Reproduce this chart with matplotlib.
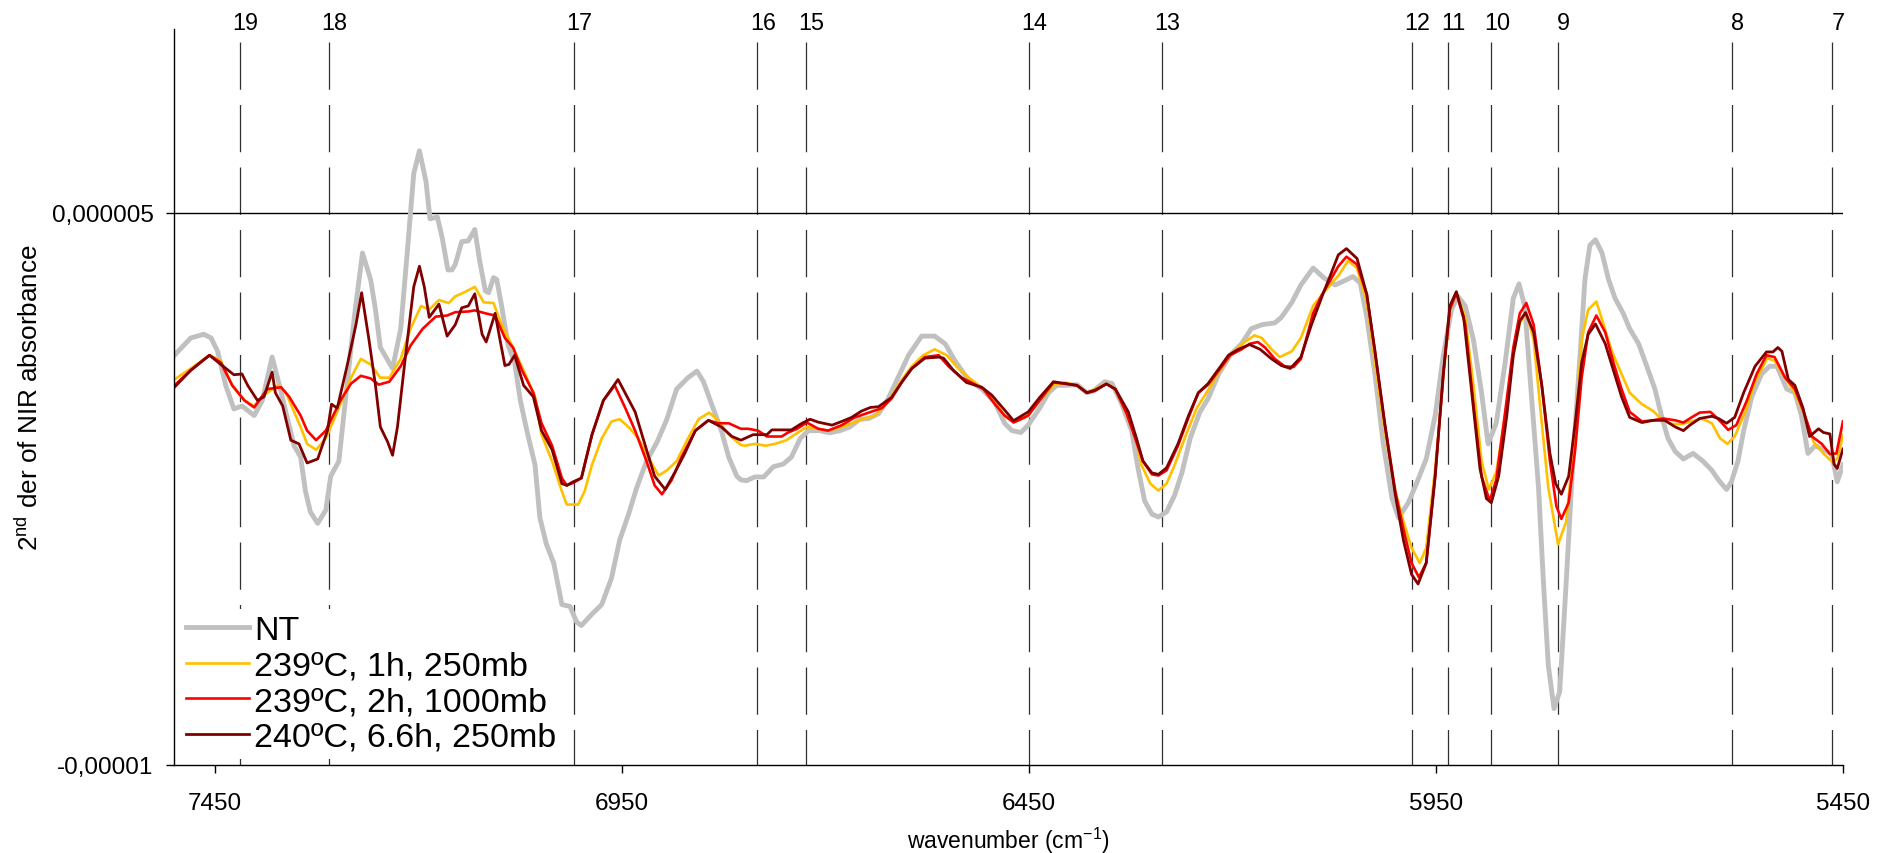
import matplotlib
matplotlib.use('Agg')
import matplotlib.pyplot as plt
import numpy as np

plt.rcParams['font.family'] = ['Liberation Sans', 'DejaVu Sans']
plt.rcParams['mathtext.fontset'] = 'custom'
plt.rcParams['mathtext.rm'] = 'Liberation Sans'
plt.rcParams['mathtext.it'] = 'Liberation Sans:italic'
plt.rcParams['lines.scale_dashes'] = False

# numbered bands (dashed markers)
band_labels = ['19', '18', '17', '16', '15', '14', '13', '12', '11', '10', '9', '8', '7']
band_wn = [7420, 7310, 7009, 6784, 6724, 6450, 6287, 5980, 5935, 5882, 5800, 5586, 5463]

x_ticks = [7450, 6950, 6450, 5950, 5450]
y_ticks = [-1e-5, 5e-6]
y_ticklabels = ['-0,00001', '0,000005']

labels = ['NT', '239ºC, 1h, 250mb', '239ºC, 2h, 1000mb', '240ºC, 6.6h, 250mb']

# NT (untreated)
nt_wn = [7500, 7480, 7464, 7455, 7447, 7437, 7427, 7417, 7402, 7392, 7380, 7371, 7361, 7353, 7345,
         7339, 7333, 7324, 7314, 7308, 7298, 7290, 7279, 7269, 7259, 7253, 7247, 7232, 7222, 7214,
         7206, 7199, 7191, 7186, 7177, 7171, 7164, 7159,
         7155, 7147, 7139, 7131, 7125, 7118, 7114, 7108, 7104, 7098, 7090, 7082, 7075, 7067, 7057,
         7051, 7043, 7034, 7024, 7014, 7006, 7000, 6987, 6975, 6963, 6953, 6942, 6932, 6920, 6907,
         6895, 6883, 6869, 6858, 6850, 6840, 6828, 6819, 6809, 6804,
         6797, 6787, 6776, 6764, 6752, 6742, 6731, 6721, 6707, 6695, 6682, 6670, 6658, 6647, 6635,
         6623, 6611, 6598, 6582, 6566, 6553, 6541, 6525, 6508, 6492, 6480, 6471, 6460,
         6451, 6437, 6426, 6416, 6406, 6391, 6379, 6371, 6357, 6348, 6336, 6324, 6316, 6308, 6299,
         6291, 6281, 6271, 6262, 6252, 6240, 6230, 6217, 6203, 6189, 6177, 6164, 6148, 6140, 6127, 6116,
         6101, 6088, 6074, 6064, 6052, 6043, 6035, 6025, 6015, 6004, 5996, 5984, 5974, 5962, 5951,
         5941, 5931, 5923, 5914, 5904, 5894, 5886, 5876, 5865, 5855, 5848, 5841, 5833, 5824, 5818,
         5812, 5805, 5798, 5790, 5781,
         5773, 5767, 5761, 5754, 5746, 5738, 5730, 5720, 5712, 5701, 5691, 5681, 5673, 5665, 5656,
         5646, 5634, 5622, 5611, 5603, 5593, 5587, 5579, 5572, 5562, 5550, 5540, 5531, 5519, 5509,
         5501, 5493, 5484, 5474, 5464, 5457, 5450]
nt_val = np.array([
    1.13, 1.60, 1.70, 1.60, 1.24, 0.31, -0.33, -0.25, -0.51, -0.10, 1.08, 0.31, -0.61, -1.33, -1.64,
    -2.57, -3.13, -3.44, -3.08, -2.16, -1.75, -0.10, 2.16, 3.91, 3.19, 2.37, 1.34, 0.77, 1.85, 3.91,
    6.07, 6.69, 5.86, 4.84, 4.89, 4.32, 3.45, 3.45,
    3.60, 4.22, 4.24, 4.55, 3.70, 2.88, 2.83, 3.24, 3.19, 2.47, 1.39, 0.93, -0.10, -0.92, -1.85,
    -3.29, -4.01, -4.52, -5.65, -5.70, -6.12, -6.22, -5.91, -5.65, -4.93, -3.90, -3.19, -2.47, -1.75, -1.23,
    -0.61, 0.21, 0.52, 0.70, 0.41, -0.20, -0.92, -1.64, -2.16, -2.26,
    -2.28, -2.18, -2.18, -1.90, -1.83, -1.64, -1.13, -0.92, -0.92, -0.98, -0.92, -0.82, -0.61, -0.59, -0.46,
    -0.05, 0.52, 1.13, 1.65, 1.65, 1.44, 0.98, 0.47, 0.21, -0.15, -0.72, -0.92, -0.97,
    -0.77, -0.31, 0.11, 0.31, 0.31, 0.33, 0.11, 0.16, 0.41, 0.36, -0.20, -0.92, -1.95, -2.83, -3.19,
    -3.27, -3.13, -2.67, -2.05, -1.13, -0.41, -0.05, 0.62, 1.13, 1.44, 1.85, 1.96, 2.01, 2.16, 2.57, 3.04,
    3.50, 3.24, 3.04, 3.14, 3.27, 3.09, 2.16, 0.62, -1.23, -2.77, -3.29, -2.88, -2.36, -1.69, -0.51,
    1.13, 2.37, 2.73, 2.47, 1.55, 0.11, -1.28, -0.72, 0.93, 2.68, 3.07, 2.47, 0.11, -2.47, -5.04,
    -7.30, -8.48, -8.02, -5.04, -1.44,
    1.13, 3.19, 4.12, 4.27, 3.91, 3.19, 2.68, 2.27, 1.85, 1.44, 0.83, 0.21, -0.51, -1.13, -1.49,
    -1.69, -1.54, -1.75, -2.00, -2.26, -2.52, -2.31, -1.75, -0.92, 0.00, 0.62, 0.83, 0.83, 0.21, 0.11,
    -0.51, -1.54, -1.33, -1.44, -1.54, -2.31, -1.85]) * 1e-6

# 239 C, 1h, 250mb
s1_wn = [7500, 7480, 7457, 7443, 7429, 7414, 7402, 7390, 7373, 7363, 7345, 7337, 7326, 7314, 7300,
         7283, 7271, 7259, 7247, 7236, 7222, 7210, 7197, 7187, 7175, 7163,
         7155, 7143, 7131, 7120, 7108, 7098, 7084, 7069, 7057, 7049, 7036, 7024, 7018, 7004, 6996,
         6987, 6975, 6963, 6953, 6942, 6930, 6918, 6905, 6895, 6883, 6869, 6856, 6843, 6832, 6819, 6804,
         6799, 6787, 6774, 6762, 6748, 6738, 6723, 6709, 6697, 6680, 6668, 6652, 6639, 6623, 6606,
         6594, 6580, 6566, 6551, 6537, 6521, 6506, 6492, 6480, 6469, 6460,
         6451, 6437, 6420, 6406, 6391, 6379, 6369, 6355, 6344, 6330, 6320, 6312, 6301, 6291, 6281,
         6271, 6258, 6244, 6232, 6217, 6201, 6185, 6173, 6164, 6152, 6142, 6127, 6116,
         6101, 6090, 6082, 6070, 6058, 6047, 6035, 6025, 6013, 6000, 5990, 5980, 5970, 5962, 5951,
         5941, 5933, 5925, 5914, 5904, 5894, 5885, 5876, 5865, 5855, 5847, 5839, 5830, 5820, 5812,
         5800, 5790, 5779,
         5771, 5763, 5753, 5744, 5734, 5722, 5712, 5697, 5683, 5673, 5660, 5648, 5636, 5624, 5611,
         5601, 5592, 5583, 5570, 5558, 5543, 5534, 5521, 5509, 5497, 5486, 5474, 5462, 5456, 5450]
s1_val = np.array([
    0.47, 0.77, 1.13, 0.98, 0.31, -0.10, -0.25, 0.05, 0.31, 0.11, -0.82, -1.28, -1.44, -1.13, -0.41,
    0.52, 1.03, 0.88, 0.52, 0.52, 1.03, 1.85, 2.47, 2.37, 2.63, 2.55,
    2.73, 2.85, 2.99, 2.57, 2.55, 1.96, 1.34, 0.62, 0.00, -1.03, -1.75, -2.57, -2.93, -2.93, -2.57,
    -1.85, -1.13, -0.67, -0.61, -0.82, -1.13, -1.64, -2.14, -2.00, -1.75, -1.13, -0.61, -0.43, -0.64, -1.03, -1.31,
    -1.33, -1.28, -1.33, -1.28, -1.18, -1.03, -0.82, -0.87, -0.92, -0.82, -0.72, -0.59, -0.51, -0.10, 0.47,
    0.83, 1.13, 1.29, 1.13, 0.77, 0.47, 0.21, -0.15, -0.51, -0.67, -0.61,
    -0.51, -0.10, 0.31, 0.39, 0.31, 0.11, 0.21, 0.36, 0.21, -0.46, -1.03, -1.85, -2.36, -2.55, -2.36,
    -1.85, -1.08, -0.31, 0.11, 0.67, 1.19, 1.49, 1.67, 1.60, 1.29, 1.08, 1.24, 1.60,
    2.47, 2.78, 2.99, 3.29, 3.70, 3.50, 2.57, 0.93, -0.92, -2.57, -3.39, -4.11, -4.52, -4.11, -1.95,
    0.52, 2.37, 2.83, 2.16, 0.31, -1.75, -2.52, -2.05, -0.51, 1.13, 2.01, 2.29, 1.55, -0.72, -2.47,
    -4.01, -3.39, -0.92,
    1.55, 2.37, 2.59, 1.96, 1.24, 0.62, 0.11, -0.20, -0.39, -0.61, -0.74, -0.74, -0.67, -0.59, -0.72,
    -1.13, -1.28, -1.08, -0.41, 0.41, 1.05, 0.98, 0.52, 0.11, -0.51, -1.23, -1.54, -1.80, -1.64, -1.03]) * 1e-6

# 239 C, 2h, 1000mb
s2_wn = [7500, 7480, 7457, 7443, 7429, 7414, 7402, 7386, 7369, 7359, 7345, 7337, 7326, 7314, 7296,
         7283, 7271, 7259, 7249, 7236, 7222, 7210, 7195, 7179, 7165,
         7155, 7139, 7131, 7118, 7106, 7094, 7084, 7073, 7059, 7049, 7036, 7024, 7018, 7010, 7000,
         6987, 6973, 6959, 6946, 6934, 6920, 6910, 6901, 6889, 6877, 6860, 6844, 6832, 6819, 6804,
         6795, 6783, 6772, 6754, 6746, 6735, 6723, 6709, 6697, 6680, 6664, 6647, 6631, 6619, 6606,
         6594, 6578, 6561, 6549, 6533, 6521, 6506, 6492, 6480, 6469, 6460,
         6451, 6437, 6420, 6406, 6391, 6379, 6369, 6355, 6344, 6330, 6318, 6310, 6299, 6291, 6281,
         6267, 6254, 6242, 6230, 6213, 6203, 6189, 6179, 6169, 6160, 6148, 6136, 6125, 6116,
         6101, 6090, 6082, 6070, 6060, 6047, 6035, 6025, 6013, 6000, 5990, 5980, 5971, 5962, 5951,
         5941, 5933, 5925, 5914, 5904, 5894, 5884, 5876, 5865, 5855, 5847, 5839, 5830, 5820, 5810,
         5802, 5796, 5787, 5779,
         5771, 5763, 5753, 5742, 5732, 5722, 5712, 5697, 5683, 5671, 5656, 5646, 5636, 5626, 5613,
         5603, 5591, 5581, 5568, 5556, 5544, 5534, 5521, 5509, 5499, 5488, 5476, 5466, 5458, 5450]
s2_val = np.array([
    0.31, 0.72, 1.13, 0.93, 0.31, -0.10, -0.29, 0.21, 0.26, 0.00, -0.51, -0.92, -1.18, -0.92, -0.10,
    0.36, 0.57, 0.50, 0.33, 0.41, 0.83, 1.39, 1.85, 2.18, 2.21,
    2.30, 2.32, 2.35, 2.27, 2.21, 1.60, 1.34, 0.72, 0.11, -0.72, -1.33, -2.21, -2.41, -2.34, -2.21,
    -1.03, -0.10, 0.31, -0.31, -0.92, -1.75, -2.41, -2.65, -2.26, -1.64, -0.92, -0.64, -0.72, -0.72, -0.87,
    -0.87, -0.92, -1.08, -1.08, -0.97, -0.87, -0.70, -0.87, -0.92, -0.77, -0.56, -0.43, -0.31, -0.05, 0.41,
    0.77, 1.08, 1.13, 0.83, 0.52, 0.39, 0.21, -0.20, -0.51, -0.70, -0.61,
    -0.51, -0.10, 0.39, 0.36, 0.31, 0.11, 0.16, 0.35, 0.21, -0.46, -1.23, -1.75, -2.11, -2.14, -2.00,
    -1.33, -0.56, 0.11, 0.33, 0.83, 1.13, 1.29, 1.44, 1.49, 1.34, 1.03, 0.83, 0.81, 1.03,
    2.27, 2.78, 3.09, 3.55, 3.81, 3.60, 2.78, 1.24, -0.72, -2.57, -3.60, -4.52, -4.91, -4.52, -2.16,
    0.62, 2.37, 2.83, 1.96, -0.20, -2.16, -2.83, -2.26, -0.41, 1.34, 2.27, 2.55, 1.96, 0.31, -1.75,
    -2.98, -3.32, -2.88, -1.44,
    0.52, 1.75, 2.21, 1.75, 0.93, 0.21, -0.41, -0.67, -0.64, -0.59, -0.64, -0.70, -0.56, -0.43, -0.41,
    -0.61, -0.90, -0.77, -0.10, 0.62, 1.13, 1.08, 0.52, 0.21, -0.36, -1.08, -1.28, -1.56, -1.54, -0.67]) * 1e-6

# 240 C, 6.6h, 250mb
s3_wn = [7500, 7480, 7457, 7443, 7427, 7417, 7410, 7398, 7390, 7380, 7376, 7367, 7357, 7347, 7337,
         7324, 7312, 7307, 7300, 7288, 7277, 7270, 7261, 7253, 7247, 7238, 7232, 7226, 7216, 7206,
         7199, 7193, 7187, 7175, 7165,
         7155, 7147, 7139, 7131, 7122, 7117, 7106, 7100, 7094, 7089, 7082, 7071, 7059, 7049, 7036,
         7024, 7018, 7010, 7000, 6987, 6973, 6955, 6934, 6920, 6910, 6897, 6885, 6873, 6860, 6844,
         6828, 6815, 6804,
         6789, 6772, 6766, 6754, 6742, 6729, 6719, 6709, 6692, 6680, 6668, 6656, 6645, 6635, 6619,
         6606, 6594, 6578, 6561, 6555, 6543, 6527, 6508, 6496, 6480, 6469, 6460,
         6451, 6437, 6420, 6406, 6391, 6379, 6369, 6355, 6344, 6328, 6318, 6310, 6299, 6291, 6281,
         6267, 6254, 6242, 6230, 6213, 6205, 6193, 6179, 6166, 6152, 6140, 6129, 6116,
         6103, 6090, 6080, 6070, 6060, 6047, 6035, 6025, 6013, 6000, 5990, 5980, 5972, 5962, 5951,
         5941, 5933, 5925, 5916, 5906, 5896, 5888, 5882, 5873, 5863, 5855, 5847, 5840, 5830, 5820,
         5810, 5803, 5796, 5787, 5779,
         5771, 5763, 5754, 5742, 5732, 5722, 5712, 5697, 5683, 5669, 5656, 5646, 5638, 5626, 5611,
         5603, 5593, 5583, 5572, 5558, 5544, 5536, 5530, 5525, 5517, 5509, 5499, 5491, 5480, 5474,
         5466, 5461, 5457, 5450]
s3_val = np.array([
    0.26, 0.72, 1.13, 0.88, 0.60, 0.62, 0.31, -0.10, 0.00, 0.67, 0.11, -0.25, -1.18, -1.28, -1.80,
    -1.69, -0.92, -0.20, -0.31, 0.83, 1.96, 2.83, 1.55, 0.31, -0.82, -1.23, -1.59, -0.82, 1.13, 2.99,
    3.55, 2.99, 2.16, 2.52, 1.65,
    1.96, 2.42, 2.47, 2.80, 1.70, 1.49, 2.27, 1.55, 0.85, 0.88, 1.13, 0.31, 0.00, -0.92, -1.44,
    -2.36, -2.41, -2.31, -2.21, -1.03, -0.10, 0.47, -0.41, -1.44, -2.16, -2.52, -2.05, -1.54, -0.92, -0.64,
    -0.82, -1.08, -1.18,
    -1.03, -1.03, -0.90, -0.90, -0.90, -0.72, -0.61, -0.69, -0.77, -0.67, -0.56, -0.39, -0.29, -0.27, -0.02,
    0.41, 0.77, 1.05, 1.08, 1.05, 0.72, 0.39, 0.26, 0.05, -0.36, -0.65, -0.53,
    -0.41, -0.02, 0.41, 0.36, 0.31, 0.11, 0.18, 0.35, 0.21, -0.41, -1.13, -1.75, -2.07, -2.11, -1.93,
    -1.28, -0.51, 0.11, 0.36, 0.88, 1.13, 1.29, 1.42, 1.29, 1.03, 0.85, 0.77, 1.08,
    1.96, 2.73, 3.29, 3.86, 4.03, 3.76, 2.78, 1.24, -0.72, -2.67, -3.90, -4.83, -5.09, -4.52, -2.16,
    0.62, 2.47, 2.86, 2.16, 0.11, -1.95, -2.77, -2.88, -2.16, -0.51, 1.13, 2.06, 2.29, 1.75, 0.31,
    -1.54, -2.36, -2.65, -2.16, -0.72,
    0.93, 1.70, 1.98, 1.44, 0.72, 0.00, -0.56, -0.70, -0.64, -0.64, -0.82, -0.92, -0.77, -0.59, -0.53,
    -0.59, -0.72, -0.56, 0.11, 0.83, 1.22, 1.22, 1.34, 1.24, 0.47, 0.31, -0.31, -1.08, -0.87, -0.97,
    -1.01, -1.83, -1.95, -1.42]) * 1e-6

series_wn = [nt_wn, s1_wn, s2_wn, s3_wn]
series_val = [nt_val, s1_val, s2_val, s3_val]
colors = ['#C0C0C0', '#FFC000', '#FF0000', '#800000']
widths = [3.5, 1.9, 1.9, 2.0]

fig = plt.figure(figsize=(18.9, 8.54), dpi=100)
ax = fig.add_axes([0.0923, 0.1036, 0.8828, 0.8612])

# dashed band markers with their numbers on top
for lbl, wn in zip(band_labels, band_wn):
    ax.plot([wn, wn], [9.65e-6, -1e-5], color='#303030', lw=0.9,
            linestyle=(0, (34, 11)), zorder=1)
    ax.annotate(lbl, (wn, 1e-5), xytext=(4, 5), textcoords='offset points',
                ha='center', va='center', fontsize=16.8, annotation_clip=False)

ax.axhline(5e-6, color='black', lw=1.0, zorder=1)

for wn, val, c, w, lbl in zip(series_wn, series_val, colors, widths, labels):
    ax.plot(wn, val, color=c, lw=w, label=lbl, zorder=2)

ax.set_xlim(7500, 5450)
ax.set_ylim(-1e-5, 1e-5)
ax.set_xticks(x_ticks)
ax.set_xticklabels([str(t) for t in x_ticks])
ax.set_yticks(y_ticks)
ax.set_yticklabels(y_ticklabels)
ax.tick_params(axis='both', direction='out', length=6, width=1, labelsize=17.5)
ax.tick_params(axis='x', pad=14)
ax.tick_params(axis='y', pad=9)
for side in ['top', 'right']:
    ax.spines[side].set_visible(False)
for side in ['left', 'bottom']:
    ax.spines[side].set_linewidth(1.0)

ax.set_xlabel('wavenumber (cm$^{-1}$)', fontsize=16.5)
ax.xaxis.set_label_coords(0.5, -0.082)
ax.set_ylabel('2$^{\\rm nd}$ der of NIR absorbance', fontsize=18.8)
ax.yaxis.set_label_coords(-0.079, 0.5)

ax.legend(loc='lower left', bbox_to_anchor=(0.0, 0.0), fontsize=24.5, frameon=True,
          facecolor='white', edgecolor='none', framealpha=1, fancybox=False,
          handlelength=1.85, handletextpad=0.15, labelspacing=0.13,
          borderpad=0.2, borderaxespad=0.15)

fig.savefig('out.png', dpi=100)
